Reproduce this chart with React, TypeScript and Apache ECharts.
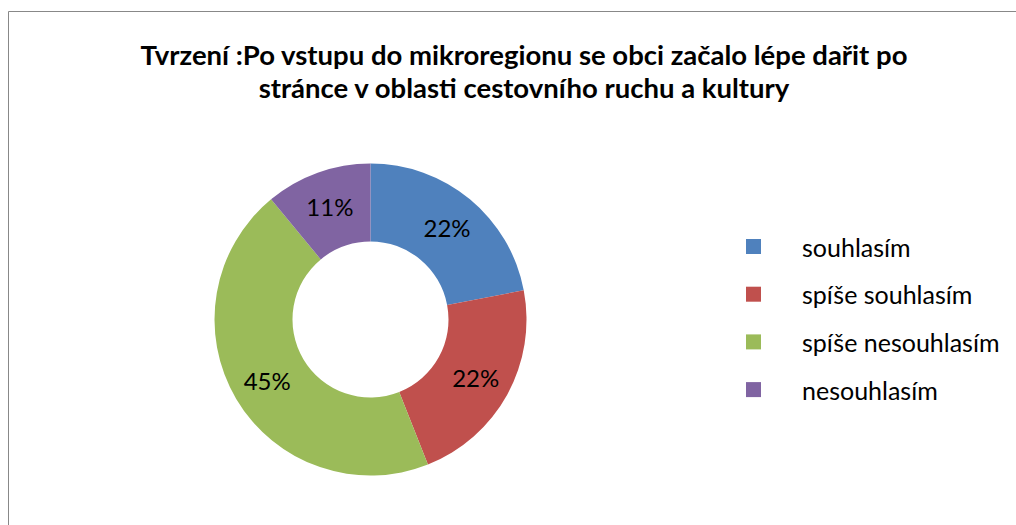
import React, { useEffect, useRef } from "react";
import * as echarts from "echarts";

const titleLines = [
  "Tvrzení :Po vstupu do mikroregionu se obci začalo lépe dařit po",
  "stránce v oblasti cestovního ruchu a kultury",
];
const categories = ["souhlasím", "spíše souhlasím", "spíše nesouhlasím", "nesouhlasím"];
const values = [22, 22, 45, 11];
const colors = ["#4F81BD", "#C0504D", "#9BBB59", "#8064A2"];

export default function App() {
  const ref = useRef<HTMLDivElement>(null);
  useEffect(() => {
    if (!ref.current) return;
    const chart = echarts.init(ref.current, undefined, { renderer: "svg" });
    chart.setOption({
      animation: false,
      backgroundColor: "#ffffff",
      textStyle: { fontFamily: "Lato" },
      graphic: [
        {
          type: "rect",
          shape: { x: 8.5, y: 11.5, width: 1100, height: 700 },
          style: { fill: "none", stroke: "#888888", lineWidth: 1 },
          silent: true,
          z: -1,
        },
      ],
      title: {
        text: titleLines.join("\n"),
        left: 519,
        top: 33,
        textAlign: "center",
        textStyle: {
          fontFamily: "Lato",
          fontSize: 27.5,
          fontWeight: "bold",
          color: "#000000",
          lineHeight: 33,
        },
      },
      legend: {
        orient: "vertical",
        left: 741,
        top: 229,
        itemWidth: 15,
        itemHeight: 15,
        itemGap: 22.7,
        icon: "rect",
        data: categories,
        textStyle: {
          fontFamily: "Lato",
          fontSize: 25,
          color: "#000000",
          padding: [0, 0, 0, 36],
        },
      },
      series: [
        {
          type: "pie",
          center: [370.5, 319.5],
          radius: [78, 156],
          startAngle: 90,
          clockwise: true,
          label: {
            show: true,
            position: "inside",
            formatter: (p: any) => p.value + "%",
            fontFamily: "Lato",
            fontSize: 24,
            color: "#000000",
          },
          labelLine: { show: false },
          itemStyle: { borderWidth: 0 },
          emphasis: { disabled: true },
          data: categories.map((c, i) => ({
            name: c,
            value: values[i],
            itemStyle: { color: colors[i] },
          })),
        },
      ],
    });
    return () => chart.dispose();
  }, []);
  return (
    <div
      ref={ref}
      style={{ position: "absolute", left: 0, top: 0, width: 1016, height: 525 }}
    />
  );
}
